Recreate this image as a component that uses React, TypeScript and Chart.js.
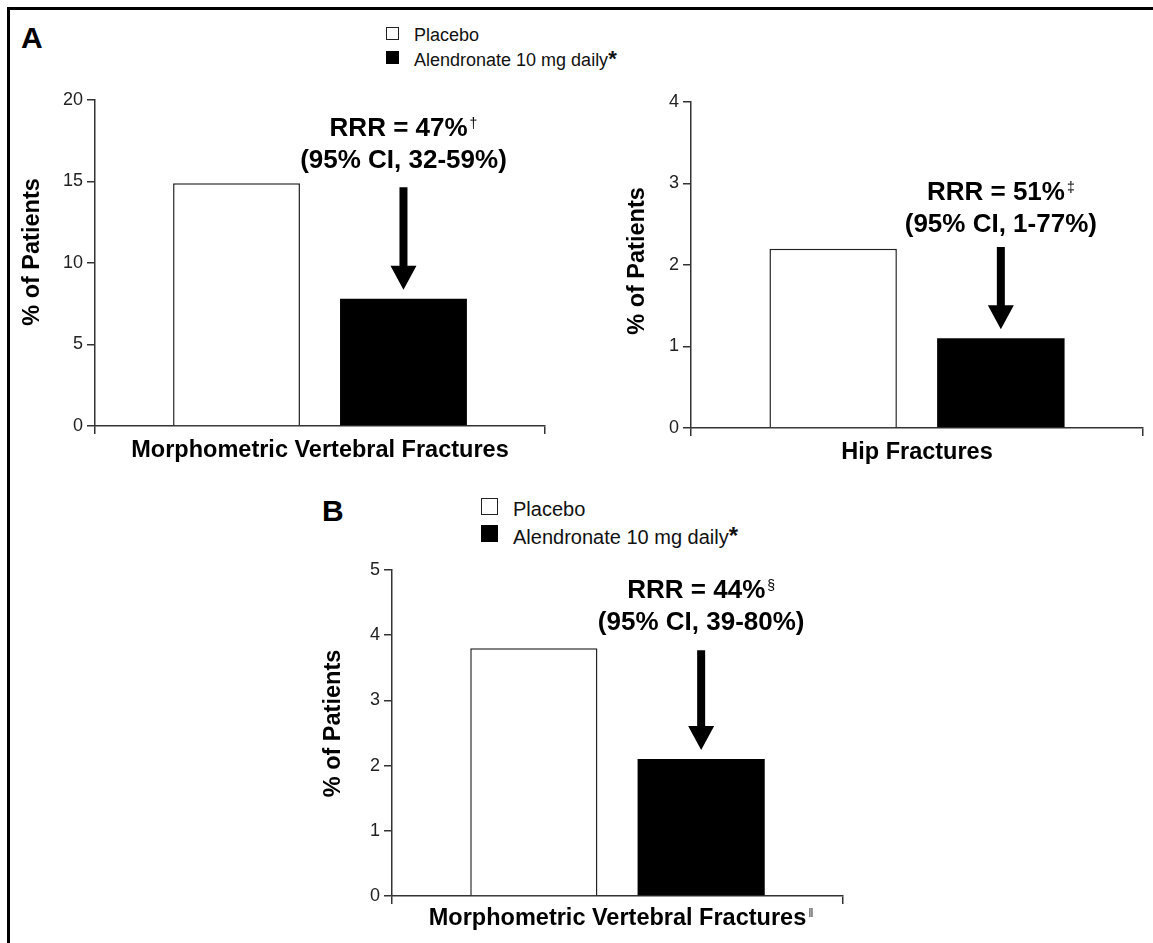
import React, { useEffect, useRef } from "react";
import { Chart, registerables } from "chart.js";

Chart.register(...registerables);

const FONT = '"Liberation Sans", Arial, Helvetica, sans-serif';

// ---- data ----
const seriesNames = ["Placebo", "Alendronate 10 mg daily"];
const categoriesA1 = ["Morphometric Vertebral Fractures"];
const categoriesA2 = ["Hip Fractures"];
const categoriesB = ["Morphometric Vertebral Fractures"];
const placeboA1 = [14.9];
const alendronateA1 = [7.8];
const placeboA2 = [2.2];
const alendronateA2 = [1.1];
const placeboB = [3.8];
const alendronateB = [2.1];
const yMaxes = [20, 4, 5];
const ySteps = [5, 1, 1];
const yTitle = "% of Patients";
const rrrTexts = ["RRR = 47%", "RRR = 51%", "RRR = 44%"];
const rrrSups = ["\u2020", "\u2021", "\u00a7"];
const ciTexts = ["(95% CI, 32-59%)", "(95% CI, 1-77%)", "(95% CI, 39-80%)"];
const xLabelSups = ["", "", "\u2016"];

const X_FONT_SIZE = 23.5;

const rrrPlugin = {
  id: "rrr",
  afterDraw(chart: any, _args: any, opts: any) {
    const { ctx, chartArea } = chart;
    const yScale = chart.scales.y;
    const xScale = chart.scales.x;
    const bar = chart.getDatasetMeta(1).data[0];
    const cx = bar.x;
    const barTop = bar.y;
    ctx.save();
    ctx.fillStyle = "#000";
    ctx.textBaseline = "alphabetic";
    // line 1 with superscript
    ctx.font = `bold 26px ${FONT}`;
    const w1 = ctx.measureText(opts.rrr).width;
    ctx.font = `14px ${FONT}`;
    const ws = ctx.measureText(opts.sup).width;
    const total = w1 + 2 + ws;
    const ty = yScale.getPixelForValue(opts.textValue);
    const x0 = cx - total / 2;
    ctx.textAlign = "left";
    ctx.font = `bold 26px ${FONT}`;
    ctx.fillText(opts.rrr, x0, ty);
    ctx.font = `14px ${FONT}`;
    ctx.fillText(opts.sup, x0 + w1 + 2, ty - 8);
    // line 2
    ctx.textAlign = "center";
    ctx.font = `bold 26px ${FONT}`;
    ctx.fillText(opts.ci, cx, ty + 32);
    // arrow
    const ay = yScale.getPixelForValue(opts.arrowStart);
    const tip = barTop - 9;
    const hh = 24, hw = 13, sw = 4;
    ctx.beginPath();
    ctx.moveTo(cx - sw, ay);
    ctx.lineTo(cx + sw, ay);
    ctx.lineTo(cx + sw, tip - hh);
    ctx.lineTo(cx + hw, tip - hh);
    ctx.lineTo(cx, tip);
    ctx.lineTo(cx - hw, tip - hh);
    ctx.lineTo(cx - sw, tip - hh);
    ctx.closePath();
    ctx.fill();
    // y axis title (rotated)
    ctx.save();
    ctx.translate(chartArea.left - opts.titleOffset, (chartArea.top + chartArea.bottom) / 2 - opts.titleShift);
    ctx.rotate(-Math.PI / 2);
    ctx.textAlign = "center";
    ctx.textBaseline = "middle";
    ctx.font = `bold 23.5px ${FONT}`;
    ctx.fillText(yTitle, 0, 0);
    ctx.restore();
    // superscript after x label
    if (opts.xSup) {
      ctx.font = `bold ${X_FONT_SIZE}px ${FONT}`;
      const lw = ctx.measureText(chart.data.labels[0]).width;
      const lx = xScale.getPixelForTick(0);
      ctx.font = `13px ${FONT}`;
      ctx.textAlign = "left";
      ctx.textBaseline = "top";
      ctx.fillStyle = "#333";
      ctx.fillText(opts.xSup, lx + lw / 2 + 2, chartArea.bottom + 11);
    }
    ctx.restore();
  },
};

function makeConfig(
  i: number,
  labels: string[],
  placebo: number[],
  alendronate: number[],
  layout: {
    yWidth: number;
    xHeight: number;
    rightPad: number;
    xPad: number;
    titleOffset: number;
    titleShift: number;
    textValue: number;
    arrowStart: number;
  }
): any {
  return {
    type: "bar",
    data: {
      labels,
      datasets: [
        {
          label: seriesNames[0],
          data: placebo,
          backgroundColor: "#ffffff",
          borderColor: "#222",
          borderWidth: 1.5,
          borderSkipped: "bottom",
        },
        {
          label: seriesNames[1],
          data: alendronate,
          backgroundColor: "#000000",
          borderColor: "#000000",
          borderWidth: 0,
        },
      ],
    },
    options: {
      animation: false,
      responsive: false,
      maintainAspectRatio: false,
      layout: { padding: { top: 20, right: layout.rightPad, left: 0, bottom: 0 } },
      datasets: { bar: { categoryPercentage: 0.742, barPercentage: 0.76 } },
      plugins: {
        legend: { display: false },
        tooltip: { enabled: false },
        rrr: {
          rrr: rrrTexts[i],
          sup: rrrSups[i],
          ci: ciTexts[i],
          textValue: layout.textValue,
          arrowStart: layout.arrowStart,
          xSup: xLabelSups[i],
          titleOffset: layout.titleOffset,
          titleShift: layout.titleShift,
        },
      },
      scales: {
        x: {
          offset: true,
          grid: {
            display: true,
            offset: true,
            drawOnChartArea: false,
            drawTicks: true,
            tickLength: 8,
            color: "#333",
            lineWidth: 1.5,
          },
          border: { display: true, color: "#333", width: 1.5 },
          ticks: {
            font: { family: FONT, size: X_FONT_SIZE, weight: "bold" },
            color: "#000",
            padding: layout.xPad,
          },
          afterFit: (s: any) => {
            s.height = layout.xHeight;
          },
        },
        y: {
          min: 0,
          max: yMaxes[i],
          ticks: {
            stepSize: ySteps[i],
            font: { family: FONT, size: 18 },
            color: "#222",
            padding: 4,
          },
          grid: {
            drawOnChartArea: false,
            drawTicks: true,
            tickLength: 8,
            color: "#333",
            lineWidth: 1.5,
          },
          border: { display: true, color: "#333", width: 1.5 },
          title: { display: false, text: yTitle },
          afterFit: (s: any) => {
            s.width = layout.yWidth;
          },
        },
      },
    },
    plugins: [rrrPlugin],
  };
}

function BarPanel(props: {
  cfg: any;
  left: number;
  top: number;
  width: number;
  height: number;
}) {
  const ref = useRef<HTMLCanvasElement | null>(null);
  useEffect(() => {
    if (!ref.current) return;
    const chart = new Chart(ref.current, props.cfg);
    return () => chart.destroy();
  }, []);
  return (
    <canvas
      ref={ref}
      width={props.width}
      height={props.height}
      style={{
        position: "absolute",
        left: props.left,
        top: props.top,
        width: props.width,
        height: props.height,
      }}
    />
  );
}

function Legend(props: {
  left: number;
  top: number;
  sq: number;
  textLeft: number;
  gap: number;
  fontSize: number;
  textTop: number;
}) {
  const { left, top, sq, textLeft, gap, fontSize, textTop } = props;
  const txt: React.CSSProperties = {
    position: "absolute",
    left: textLeft,
    fontFamily: FONT,
    fontSize,
    lineHeight: `${fontSize}px`,
    color: "#111",
    whiteSpace: "nowrap",
  };
  return (
    <>
      <div
        style={{
          position: "absolute",
          left,
          top,
          width: sq,
          height: sq,
          border: "1.5px solid #222",
          background: "#fff",
          boxSizing: "border-box",
        }}
      />
      <div
        style={{
          position: "absolute",
          left,
          top: top + gap,
          width: sq,
          height: sq,
          background: "#000",
        }}
      />
      <div style={{ ...txt, top: textTop }}>{seriesNames[0]}</div>
      <div style={{ ...txt, top: textTop + gap }}>
        {seriesNames[1]}
        <span style={{ fontWeight: "bold", fontSize: fontSize + 4 }}>*</span>
      </div>
    </>
  );
}

export default function App() {
  const cfg1 = makeConfig(0, categoriesA1, placeboA1, alendronateA1, {
    yWidth: 85, xHeight: 54, rightPad: 25, xPad: 2,
    titleOffset: 62.5, titleShift: 11, textValue: 17.8, arrowStart: 14.65,
  });
  const cfg2 = makeConfig(1, categoriesA2, placeboA2, alendronateA2, {
    yWidth: 91, xHeight: 54, rightPad: 10, xPad: 2,
    titleOffset: 53.5, titleShift: 4, textValue: 2.8, arrowStart: 2.22,
  });
  const cfg3 = makeConfig(2, categoriesB, placeboB, alendronateB, {
    yWidth: 92, xHeight: 47, rightPad: 17, xPad: 0,
    titleOffset: 58.5, titleShift: 9.5, textValue: 4.57, arrowStart: 3.77,
  });
  const panelLabel: React.CSSProperties = {
    position: "absolute",
    fontFamily: FONT,
    fontWeight: "bold",
    fontSize: 30,
    lineHeight: "30px",
    color: "#000",
  };
  return (
    <div
      style={{
        position: "fixed",
        left: 0,
        top: 0,
        width: 1153,
        height: 943,
        overflow: "hidden",
        background: "#fff",
      }}
    >
      <div
        style={{
          position: "absolute",
          left: 7,
          top: 7,
          width: 1146,
          height: 936,
          borderTop: "3px solid #000",
          borderLeft: "3px solid #000",
          boxSizing: "border-box",
        }}
      />
      <div style={{ ...panelLabel, left: 21, top: 23 }}>A</div>
      <div style={{ ...panelLabel, left: 322, top: 496 }}>B</div>
      <Legend left={386} top={27} sq={13} textLeft={414} gap={24} fontSize={18} textTop={26} />
      <Legend left={481} top={498} sq={17} textLeft={513} gap={27} fontSize={20} textTop={499} />
      <BarPanel cfg={cfg1} left={10} top={80} width={560} height={400} />
      <BarPanel cfg={cfg2} left={600} top={82} width={553} height={400} />
      <BarPanel cfg={cfg3} left={300} top={550} width={560} height={393} />
    </div>
  );
}
